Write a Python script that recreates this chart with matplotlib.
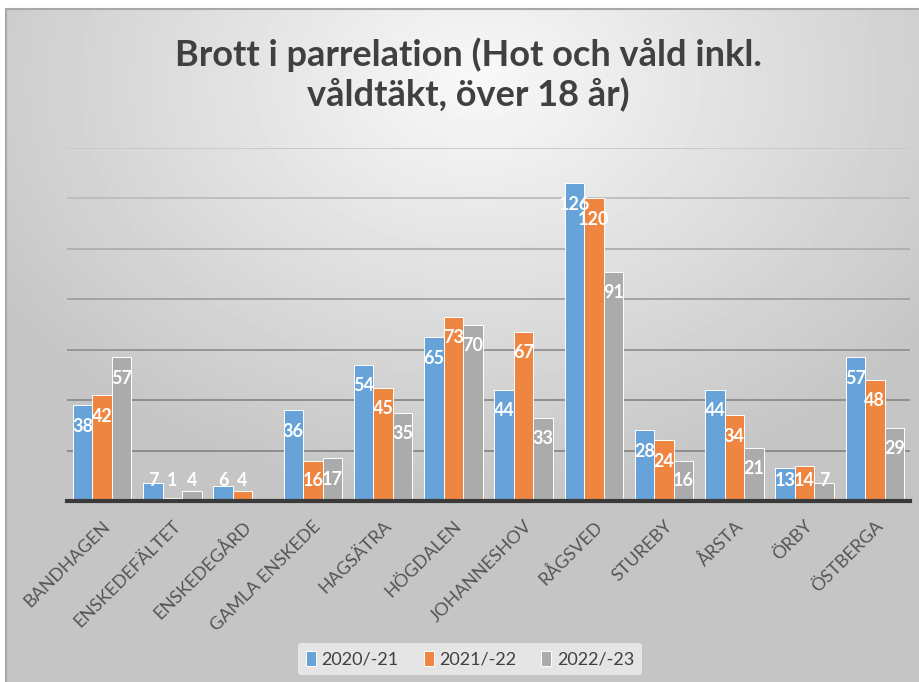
import matplotlib
matplotlib.use("Agg")
import matplotlib.pyplot as plt
import numpy as np
from matplotlib.lines import Line2D

# Data
categories = ["BANDHAGEN", "ENSKEDEFÄLTET", "ENSKEDEGÅRD", "GAMLA ENSKEDE",
              "HAGSÄTRA", "HÖGDALEN", "JOHANNESHOV", "RÅGSVED", "STUREBY",
              "ÅRSTA", "ÖRBY", "ÖSTBERGA"]
series_names = ["2020/-21", "2021/-22", "2022/-23"]
v2020 = [38, 7, 6, 36, 54, 65, 44, 126, 28, 44, 13, 57]
v2021 = [42, 1, 4, 16, 45, 73, 67, 120, 24, 34, 14, 48]
v2022 = [57, 4, None, 17, 35, 70, 33, 91, 16, 21, 7, 29]

colors = ["#67A2D8", "#EE8642", "#ABABAB"]
text_col = "#404040"
font = ["Lato", "DejaVu Sans"]
plt.rcParams["font.family"] = font

W, H = 919, 682
fig = plt.figure(figsize=(W / 100, H / 100), dpi=100)

# radial gray gradient background (Excel style chart area)
yy, xx = np.mgrid[0:H, 0:W]
r = np.sqrt(((xx - 0.52 * W) / W) ** 2 + ((yy - 0.12 * H) / H) ** 2)
shade = np.clip(0.975 - 0.33 * r, 0.77, 1.0)
fig.figimage(shade, cmap="gray", vmin=0, vmax=1, origin="upper", zorder=-10)
# white margin + gray border on the top and left, like the screenshot
fig.lines.append(Line2D([0, 1], [1 - 4 / H, 1 - 4 / H], transform=fig.transFigure,
                        color="white", linewidth=6, zorder=-6))
fig.lines.append(Line2D([2 / W, 2 / W], [0, 1], transform=fig.transFigure,
                        color="white", linewidth=6, zorder=-6))
fig.lines.append(Line2D([6 / W, 1], [1 - 9 / H, 1 - 9 / H], transform=fig.transFigure,
                        color="#A8A8A8", linewidth=1.5, zorder=-5))
fig.lines.append(Line2D([6 / W, 6 / W], [0, 1 - 9 / H], transform=fig.transFigure,
                        color="#A8A8A8", linewidth=1.5, zorder=-5))

ax = fig.add_axes([67 / W, 1 - 501 / H, (910 - 67) / W, (501 - 148) / H])
ax.patch.set_alpha(0)

x = np.arange(len(categories))
bw = 0.277
all_vals = [v2020, v2021, v2022]
for i, (vals, name, c) in enumerate(zip(all_vals, series_names, colors)):
    xs = x + (i - 1) * bw
    hv = [np.nan if v is None else v for v in vals]
    ax.bar(xs, hv, width=bw, color=c, edgecolor="white", linewidth=0.7,
           label=name, zorder=3)
    for xi, v in zip(xs, vals):
        if v is None:
            continue
        ax.text(xi, max(v, 16.6) - 8.3, str(v), ha="center", va="center",
                color="white", fontsize=13, fontweight="bold", zorder=4)

ax.set_xlim(-0.5, len(categories) - 0.5)
ax.set_ylim(0, 140)
ax.set_yticks(np.arange(20, 141, 20))
ax.set_yticklabels([])
ax.tick_params(axis="y", length=0)
ax.yaxis.grid(True, linewidth=1.3, zorder=0)
grid_cols = ["#888888", "#8A8A8A", "#929292", "#A0A0A0", "#AEAEAE", "#BCBCBC", "#C8C8C8"]
for gl, gc in zip(ax.get_ygridlines(), grid_cols):
    gl.set_color(gc)
for s in ["top", "right", "left"]:
    ax.spines[s].set_visible(False)
ax.spines["bottom"].set_color("#3A3A3A")
ax.spines["bottom"].set_linewidth(3)
ax.spines["bottom"].set_zorder(5)

ax.set_xticks(x)
ax.set_xticklabels(categories, rotation=45, ha="right", va="top",
                   rotation_mode="anchor", fontsize=13, color="#555555")
ax.tick_params(axis="x", length=0, pad=12)

# title
fig.text(468 / W, 1 - 75 / H, "Brott i parrelation (Hot och våld inkl.\nvåldtäkt, över 18 år)",
         ha="center", va="center", fontsize=26, fontweight="bold",
         color=text_col, linespacing=1.2)

leg = fig.legend(loc="center", bbox_to_anchor=(470 / W, 1 - 659 / H), ncol=3,
                 frameon=True, fontsize=13, handlelength=0.55, handleheight=0.9,
                 handletextpad=0.3, columnspacing=1.4, borderpad=0.45)
leg.get_frame().set_facecolor("#E9E9E9")
leg.get_frame().set_edgecolor("none")
leg.get_frame().set_alpha(0.9)
for t in leg.get_texts():
    t.set_color(text_col)

fig.savefig("out.png", dpi=100)
